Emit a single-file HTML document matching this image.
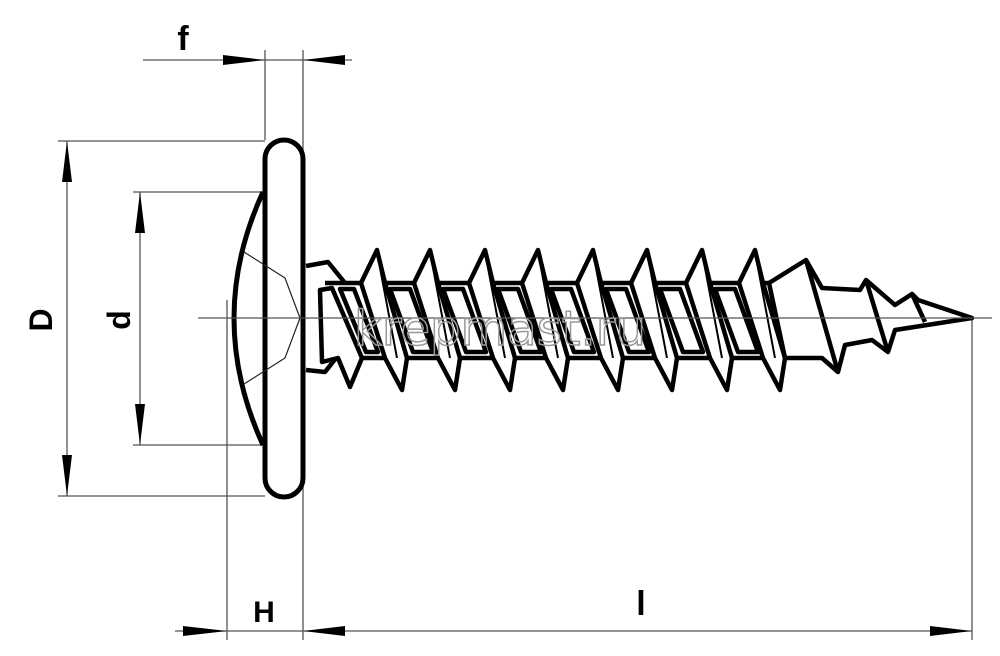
<!DOCTYPE html>
<html><head><meta charset="utf-8"><style>
html,body{margin:0;padding:0;background:#fff;}
svg{display:block;}
</style></head><body>
<svg width="1000" height="656" viewBox="0 0 1000 656" xmlns="http://www.w3.org/2000/svg">
<g stroke="#555" stroke-width="1.3" fill="none">
<line x1="143" y1="60" x2="352" y2="60"/>
<line x1="265" y1="50" x2="265" y2="140"/>
<line x1="303" y1="50" x2="303" y2="640"/>
<line x1="58" y1="141" x2="265" y2="141"/>
<line x1="58" y1="496" x2="265" y2="496"/>
<line x1="67" y1="141" x2="67" y2="496"/>
<line x1="133" y1="192" x2="263" y2="192"/>
<line x1="133" y1="445" x2="263" y2="445"/>
<line x1="140" y1="192" x2="140" y2="445"/>
<line x1="227" y1="300" x2="227" y2="640"/>
<line x1="972" y1="318" x2="972" y2="640"/>
<line x1="175" y1="631" x2="972" y2="631"/>
</g>
<g fill="#000">
<polygon points="223,55 265,60 223,65"/>
<polygon points="345,55 303,60 345,65"/>
<polygon points="62,182 67,141 72,182"/>
<polygon points="62,455 67,496 72,455"/>
<polygon points="135,233 140,192 145,233"/>
<polygon points="135,404 140,445 145,404"/>
<polygon points="183,626 227,631 183,636"/>
<polygon points="345,626 303,631 345,636"/>
<polygon points="930,626 972,631 930,636"/>
</g>
<g font-family="'Liberation Sans',sans-serif" font-weight="bold" fill="#000">
<text x="183" y="50" font-size="34" text-anchor="middle">f</text>
<text x="264" y="622" font-size="30" text-anchor="middle">H</text>
<text x="641" y="615" font-size="34" text-anchor="middle">l</text>
<text transform="translate(52,320) rotate(-90)" font-size="32" text-anchor="middle">D</text>
<text transform="translate(130,320) rotate(-90)" font-size="32" text-anchor="middle">d</text>
</g>
<g stroke="#000" stroke-width="5" fill="none" stroke-linejoin="round">
<rect x="265" y="140" width="38" height="357" rx="19"/>
<path d="M263,192 Q205,318 263,445"/>
</g>
<g stroke="#222" stroke-width="1.2" fill="none">
<path d="M244,252 L285,278 L300,318 L285,358 L244,384"/>
</g>
<g stroke="#000" stroke-width="4.5" fill="#fff" stroke-linejoin="round">
<path fill="none" d="M325,283 L770,283 M320,358 L785,358 M306,266 L328,262 L345,283 M306,370 L325,372 L336,358"/>
<polygon points="320,290 332,288 362,358 350,387 338,358 322,362"/>
<polygon points="340,289 354,289 378,352 366,352"/>
<polygon points="361,283 377,250 385,283 407,358 402,390 385,358"/>
<polygon points="414,283 430,250 438,283 460,358 455,390 438,358"/>
<polygon points="469,283 485,250 493,283 515,358 510,390 493,358"/>
<polygon points="522,283 538,250 546,283 568,358 563,390 546,358"/>
<polygon points="577,283 593,250 601,283 623,358 618,390 601,358"/>
<polygon points="631,283 647,250 655,283 677,358 672,390 655,358"/>
<polygon points="686,283 702,250 710,283 732,358 727,390 710,358"/>
<polygon points="739,283 755,250 763,283 785,358 780,390 763,358"/>
<polygon points="390,289 410,289 433,352 413,352"/>
<polygon points="443,289 463,289 486,352 466,352"/>
<polygon points="498,289 518,289 541,352 521,352"/>
<polygon points="551,289 571,289 594,352 574,352"/>
<polygon points="606,289 626,289 649,352 629,352"/>
<polygon points="660,289 680,289 703,352 683,352"/>
<polygon points="715,289 735,289 758,352 738,352"/>
<polygon points="769,283 806,260 822,288 860,290 866,280 895,305 912,294 918,300 972,318 895,330 888,352 872,340 845,345 838,372 822,358 785,358"/>
<path fill="none" d="M806,260 L838,372 M866,280 L888,352 M912,294 L925,322"/>
</g>
<g stroke="#000" stroke-width="2" fill="none">
<path d="M377,252 L397,358 M430,252 L450,358 M485,252 L505,358 M538,252 L558,358 M593,252 L613,358 M647,252 L667,358 M702,252 L722,358 M755,252 L775,358"/>
</g>
<line x1="198" y1="318" x2="992" y2="318" stroke="#555" stroke-width="1.3"/>
<text x="500" y="345" font-family="'DejaVu Sans',sans-serif" font-size="48" text-anchor="middle" fill="none" stroke="#999" stroke-width="1.5">krepmast.ru</text>
</svg>
</body></html>
